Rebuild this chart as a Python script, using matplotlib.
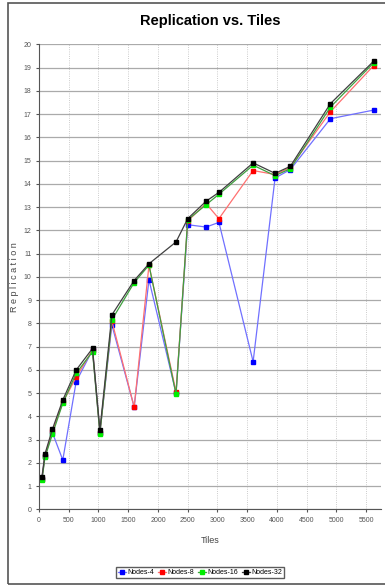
import matplotlib
matplotlib.use("Agg")
import matplotlib.pyplot as plt
from matplotlib.patches import Rectangle

tiles = [49, 100, 225, 400, 625, 900, 1024, 1225, 1600, 1849,
         2304, 2500, 2809, 3025, 3600, 3969, 4225, 4900, 5625]
nodes4 = [1.3, 2.3, 3.3, 2.12, 5.49, 6.85, 3.3, 7.93, 4.4, 9.87,
          5.0, 12.24, 12.14, 12.34, 6.35, 14.25, 14.61, 16.8, 17.17]
nodes8 = [1.3, 2.3, 3.35, 4.6, 5.68, 6.85, 3.3, 8.1, 4.4, 10.5,
          5.05, 12.4, 13.15, 12.5, 14.57, 14.4, 14.7, 17.1, 19.08]
nodes16 = [1.25, 2.23, 3.23, 4.56, 5.85, 6.78, 3.26, 8.15, 9.75, 10.5,
           4.95, 12.45, 13.1, 13.55, 14.8, 14.35, 14.65, 17.3, 19.2]
nodes32 = [1.39, 2.38, 3.44, 4.7, 5.99, 6.92, 3.41, 8.36, 9.84, 10.56,
           11.5, 12.5, 13.25, 13.63, 14.9, 14.45, 14.75, 17.45, 19.27]
labels = ["Nodes-4", "Nodes-8", "Nodes-16", "Nodes-32"]

plt.rcParams['font.family'] = ['Liberation Sans Narrow', 'Liberation Sans', 'DejaVu Sans']

fig = plt.figure(figsize=(3.85, 5.85), dpi=100)
fig.patches.append(Rectangle((8/385, 0.002), 0.99, 0.993, transform=fig.transFigure,
                             fill=False, edgecolor='#555555', linewidth=1.2))
ax = fig.add_axes([39/385, 75.7/585, 342/385, 465/585])

series = [nodes4, nodes8, nodes16, nodes32]
line_cols = ['#7070ff', '#ff7070', '#3fa03f', '#404040']
mark_cols = ['#0000ff', '#ff0000', '#00ee00', '#000000']
for y, lc, mc, lab in zip(series, line_cols, mark_cols, labels):
    ax.plot(tiles, y, color=lc, lw=0.9, marker='s', ms=3.3,
            mfc=mc, mec=mc, label=lab)

ax.set_xlim(0, 5750)
ax.set_ylim(0, 20)
ax.set_xticks(range(0, 5501, 500))
ax.set_yticks(range(0, 21))
ax.grid(axis='y', color='#aaaaaa', lw=0.9, ls='-')
ax.grid(axis='x', color='#bbbbbb', lw=0.6, ls=':')
ax.set_axisbelow(True)
ax.tick_params(labelsize=5, colors='#555555', length=2)
for s in ['top', 'right']:
    ax.spines[s].set_visible(False)
for s in ['left', 'bottom']:
    ax.spines[s].set_color('#555555')

ax.set_title("Replication vs. Tiles", fontsize=10.5, fontweight='bold', pad=14,
             family=['DejaVu Sans Condensed', 'Liberation Sans Narrow', 'Liberation Sans'])
ax.set_xlabel("Tiles", fontsize=6.5, color='#444444', labelpad=9)
ax.set_ylabel("R e p l i c a t i o n", fontsize=6.5, color='#444444', labelpad=3)

fig.legend(loc='lower center', bbox_to_anchor=(0.52, 0.006), ncol=4,
           fontsize=5, handlelength=1.2, handletextpad=0.2, columnspacing=0.5,
           fancybox=False, edgecolor='#333333', borderpad=0.3)

fig.savefig("out.png", dpi=100)
